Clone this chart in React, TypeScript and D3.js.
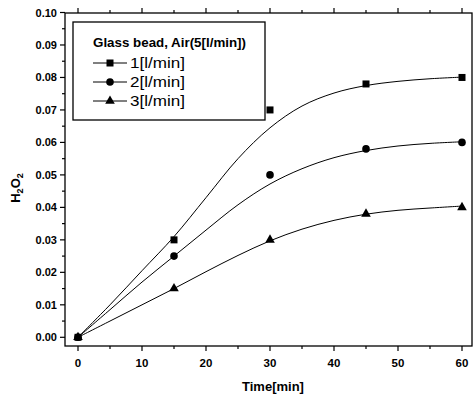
import React from "react";
import * as d3 from "d3";

const W = 474, H = 397;
const times = [0, 15, 30, 45, 60];
const s1 = [0, 0.03, 0.07, 0.078, 0.08];
const s2 = [0, 0.025, 0.05, 0.058, 0.06];
const s3 = [0, 0.015, 0.03, 0.038, 0.04];
const fitTimes = [0, 5, 10, 15, 20, 25, 30, 35, 40, 45, 50, 55, 60];
const fit1 = [0, 0.010, 0.0205, 0.031, 0.043, 0.055, 0.0645, 0.0712, 0.0752, 0.0775, 0.0788, 0.0796, 0.0801];
const fit2 = [0, 0.0085, 0.017, 0.025, 0.033, 0.0408, 0.0472, 0.0519, 0.0553, 0.0575, 0.0589, 0.0597, 0.0602];
const fit3 = [0, 0.005, 0.010, 0.015, 0.0202, 0.0252, 0.0297, 0.0333, 0.036, 0.0379, 0.0391, 0.0398, 0.0404];
const xTicks = [0, 10, 20, 30, 40, 50, 60];
const xMinor = [5, 15, 25, 35, 45, 55];
const yTicks = [0, 0.01, 0.02, 0.03, 0.04, 0.05, 0.06, 0.07, 0.08, 0.09, 0.1];
const yMinor = [0.005, 0.015, 0.025, 0.035, 0.045, 0.055, 0.065, 0.075, 0.085, 0.095];
const legendTitle = "Glass bead, Air(5[l/min])";
const seriesNames = ["1[l/min]", "2[l/min]", "3[l/min]"];
const markers = ["square", "circle", "triangle"];

const L = 65, R = 472, T = 13, B = 346;
const x = d3.scaleLinear().domain([0, 60]).range([78, 462]);
const y = d3.scaleLinear().domain([0, 0.1]).range([337.3, 12.5]);
const font = "'Liberation Sans', Arial, sans-serif";

function Marker({ kind, cx, cy }: { kind: string; cx: number; cy: number }) {
  if (kind === "square") return <rect x={cx - 3.5} y={cy - 3.5} width={7} height={7} fill="#000" />;
  if (kind === "circle") return <circle cx={cx} cy={cy} r={3.8} fill="#000" />;
  const p = d3.symbol().type(d3.symbolTriangle).size(40)();
  return <path d={p || ""} transform={`translate(${cx},${cy})`} fill="#000" />;
}

export default function App() {
  const line = d3.line<number>().x((_, i) => x(fitTimes[i])).y((d) => y(d)).curve(d3.curveCatmullRom.alpha(0.5));
  const fits = [fit1, fit2, fit3];
  const data = [s1, s2, s3];
  return (
    <svg width={W} height={H} style={{ position: "absolute", left: 0, top: 0, background: "#fff" }}>
      <rect width={W} height={H} fill="#fff" />
      <rect x={L} y={T} width={R - L} height={B - T} fill="none" stroke="#000" strokeWidth={1.3} />
      {xTicks.map((t) => (
        <g key={"x" + t}>
          <line x1={x(t)} x2={x(t)} y1={B} y2={B + 5} stroke="#000" strokeWidth={1.2} />
          <line x1={x(t)} x2={x(t)} y1={T} y2={T - 5} stroke="#000" strokeWidth={1.2} />
          <text x={x(t)} y={367} textAnchor="middle" fontFamily={font} fontSize={11.5} fontWeight={600}>{t}</text>
        </g>
      ))}
      {xMinor.map((t) => (
        <g key={"xm" + t}>
          <line x1={x(t)} x2={x(t)} y1={B} y2={B + 3} stroke="#000" strokeWidth={1.2} />
          <line x1={x(t)} x2={x(t)} y1={T} y2={T - 3} stroke="#000" strokeWidth={1.2} />
        </g>
      ))}
      {yTicks.map((t) => (
        <g key={"y" + t}>
          <line x1={L} x2={L - 5} y1={y(t)} y2={y(t)} stroke="#000" strokeWidth={1.2} />
          <text x={57} y={y(t) + 4} textAnchor="end" fontFamily={font} fontSize={11} fontWeight={600}>{t.toFixed(2)}</text>
        </g>
      ))}
      {yMinor.map((t) => (
        <line key={"ym" + t} x1={L} x2={L - 3} y1={y(t)} y2={y(t)} stroke="#000" strokeWidth={1.2} />
      ))}
      <text x={273} y={391} textAnchor="middle" fontFamily={font} fontSize={13} fontWeight={600}>Time[min]</text>
      <text transform="translate(20,188) rotate(-90)" textAnchor="middle" fontFamily={font} fontSize={13} fontWeight={600}>
        H<tspan fontSize={9} dy={3}>2</tspan><tspan dy={-3}>O</tspan><tspan fontSize={9} dy={3}>2</tspan>
      </text>
      {fits.map((f, i) => (
        <path key={"f" + i} d={line(f) || ""} fill="none" stroke="#000" strokeWidth={1} />
      ))}
      {data.map((s, i) =>
        s.map((v, j) => <Marker key={`m${i}-${j}`} kind={markers[i]} cx={x(times[j])} cy={y(v)} />)
      )}
      <rect x={73} y={22} width={192} height={98} fill="#fff" stroke="#000" strokeWidth={1.3} />
      <text x={93} y={47} fontFamily={font} fontSize={13} fontWeight={600} textLength={153} lengthAdjust="spacingAndGlyphs">{legendTitle}</text>
      {seriesNames.map((n, i) => {
        const cy = 63 + i * 19;
        return (
          <g key={n}>
            <line x1={93} x2={127} y1={cy} y2={cy} stroke="#000" strokeWidth={1} />
            <Marker kind={markers[i]} cx={110} cy={cy} />
            <text x={130} y={cy + 5} fontFamily={font} fontSize={14} fontWeight={500} textLength={55} lengthAdjust="spacingAndGlyphs">{n}</text>
          </g>
        );
      })}
    </svg>
  );
}
